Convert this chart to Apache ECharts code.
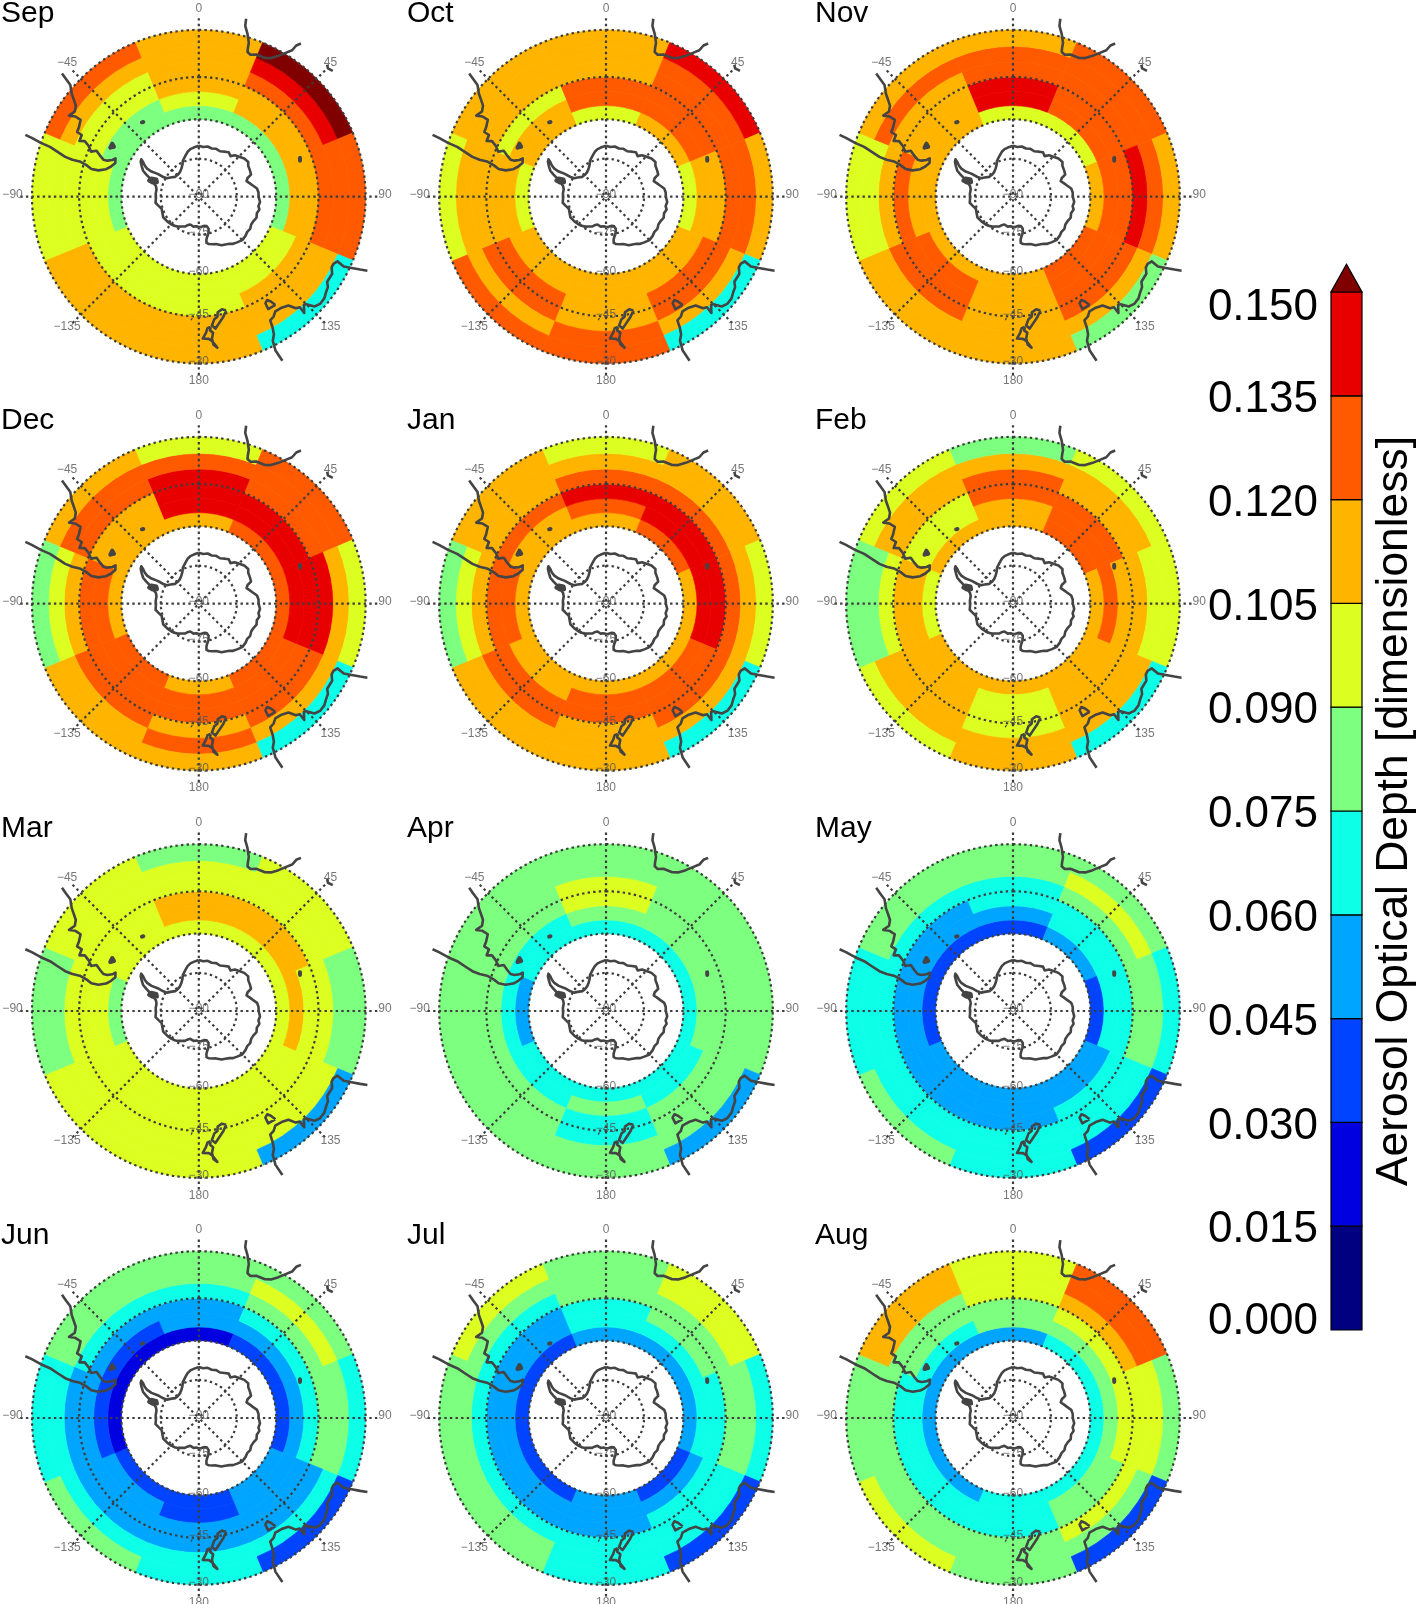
<!DOCTYPE html>
<html>
<head>
<meta charset="utf-8">
<style>html,body{margin:0;padding:0;background:#fff}#c{width:1417px;height:1604px}</style>
<script src="https://cdn.jsdelivr.net/npm/echarts@6/dist/echarts.min.js"></script>
</head>
<body>
<div id="c"></div>
<script>
// Aerosol optical depth (one representative value per colour class)
const N=.008,B=.022,U=.037,L=.052,C=.067,G=.082,Y=.097,O=.112,R=.127,E=.142,D=.160;

const monthNames=['Sep','Oct','Nov','Dec','Jan','Feb','Mar','Apr','May','Jun','Jul','Aug'];
const sectorLons=[0,45,90,135,180,-135,-90,-45];   // centre of each 45 degree sector
const ringEdges=[-60,-55,-50,-45,-40,-35,-30];     // latitude bands

// each month: one row per sector (order of sectorLons), inner ring to outer ring
const sep=[[G,Y,O,O,O,O],[G,O,O,R,E,D],[G,O,O,R,R,R],[Y,Y,O,O,O,C],[Y,Y,Y,O,O,O],[Y,Y,Y,O,O,O],[G,Y,Y,Y,Y,Y],[G,G,Y,Y,O,R]];
const oct=[[Y,R,R,O,O,O],[O,R,R,R,R,E],[Y,O,O,R,R,O],[O,O,R,R,O,C],[O,O,O,O,R,R],[O,O,R,R,O,R],[Y,O,O,O,O,Y],[O,O,Y,O,O,O]];
const nov=[[Y,E,E,R,R,O],[Y,R,R,R,R,R],[O,R,R,E,R,O],[R,R,R,R,O,G],[O,O,O,O,O,O],[O,R,R,R,O,O],[O,O,R,O,Y,Y],[O,O,O,O,R,O]];
const dec=[[O,E,E,E,R,Y],[R,E,E,R,R,R],[R,E,E,E,O,Y],[R,R,R,R,O,C],[O,R,R,O,R,O],[R,R,R,R,O,O],[O,R,R,O,Y,G],[O,O,O,R,R,O]];
const jan=[[O,R,E,R,O,Y],[R,E,E,R,O,O],[O,E,E,R,O,Y],[O,R,R,R,O,C],[O,R,R,O,O,O],[O,O,R,R,O,O],[O,R,R,O,Y,G],[O,O,R,O,O,O]];
const feb=[[O,O,R,R,O,G],[R,R,R,O,O,Y],[O,R,O,O,Y,Y],[O,O,O,O,O,C],[O,Y,Y,Y,O,O],[O,O,O,O,O,Y],[Y,O,O,Y,G,G],[O,Y,Y,O,O,Y]];
const mar=[[Y,O,O,Y,Y,G],[Y,O,O,Y,Y,Y],[Y,O,Y,Y,G,G],[Y,Y,Y,Y,Y,L],[Y,Y,Y,Y,Y,Y],[Y,Y,Y,Y,Y,Y],[G,Y,Y,Y,G,G],[Y,Y,Y,Y,Y,Y]];
const apr=[[C,G,Y,Y,G,G],[C,G,G,G,G,G],[C,G,G,G,G,G],[C,C,G,G,G,L],[C,G,C,C,G,G],[C,C,G,G,G,G],[L,C,G,G,G,G],[C,C,G,G,G,G]];
const may=[[U,L,C,C,G,G],[L,C,C,G,Y,G],[U,C,C,G,G,C],[L,L,C,C,C,U],[L,L,L,C,C,C],[L,L,L,C,C,G],[U,L,L,C,C,C],[U,L,L,C,G,G]];
const jun=[[B,L,L,C,G,G],[U,L,C,G,Y,G],[U,L,C,G,G,C],[L,L,L,L,C,U],[U,U,L,L,C,C],[U,L,L,L,C,G],[B,U,L,L,C,C],[B,U,L,C,G,G]];
const jul=[[L,C,C,G,G,G],[L,C,G,G,Y,Y],[L,C,C,G,G,C],[U,L,C,C,C,U],[L,L,L,C,C,C],[U,L,L,C,G,G],[U,L,L,C,G,G],[U,L,L,C,G,Y]];
const aug=[[L,G,G,Y,Y,Y],[C,G,Y,O,R,R],[C,G,Y,Y,Y,G],[C,G,G,Y,G,U],[C,C,C,G,G,G],[L,C,C,G,G,Y],[L,C,C,G,G,G],[L,C,G,G,O,O]];
const monthData=[sep,oct,nov,dec,jan,feb,mar,apr,may,jun,jul,aug];

// colour bar classes
const binStep=.015;
const binUpper=[.015,.03,.045,.06,.075,.09,.105,.12,.135,.15];
const binColors=['#000080','#0000e0','#0044ff','#00a5ff','#0dffe8','#7dff80','#dcff21','#ffb500','#ff5a00','#e80000'];
const overColor='#800000';
const barMax=.15, barCapTop=.154;

// graticule tick labels
const lonTicks=[0,45,90,135,180,-135,-90,-45];
const latTicks=[-30,-45,-60,-75,-90];
const gratParallels=[-30,-45,-60,-75];

// coastlines, [lon, lat] in degrees
const antarctica=[[0,-70],[5,-70.4],[10,-70],[15,-70.4],[20,-70],[25,-70.3],[30,-69.6],[34,-69],[38,-69.8],[41,-68.5],[46,-67.6],[50,-66.8],[55,-66.4],[58,-67.2],[63,-67.5],[67,-67.8],[69,-69.5],[72,-70.3],[75,-69.4],[78,-68.5],[82,-67],[86,-66.6],[90,-66.6],[95,-66],[99,-66.4],[102,-65.8],[106,-66.4],[110,-66],[114,-66.6],[118,-66.8],[122,-66.3],[126,-66.6],[130,-66.2],[135,-66],[140,-66.7],[144,-67.2],[147,-68],[151,-68.6],[155,-69],[160,-70.2],[164,-70.6],[168,-71],[170.5,-71.6],[170,-72.8],[168,-74],[165,-75.2],[163,-76.8],[165,-78],[170,-78.3],[175,-78.1],[180,-78],[-175,-78.3],[-170,-78],[-163,-78.5],[-158,-77.8],[-155,-77],[-150,-76.4],[-145,-75.6],[-140,-75],[-135,-74.6],[-128,-74.2],[-120,-73.8],[-114,-74.3],[-108,-74.6],[-102,-73.6],[-98,-72.8],[-92,-73.1],[-86,-73],[-80,-73.1],[-76,-72.6],[-72,-71],[-69,-69.2],[-67,-67.6],[-65,-66],[-62,-64.8],[-59,-63.6],[-57,-63.3],[-58,-64.4],[-60,-65.6],[-61.5,-67],[-62,-69],[-61,-71.5],[-61,-74],[-60,-75.5],[-56,-76.5],[-50,-77.8],[-44,-78],[-38,-77.8],[-32,-77],[-27,-75.8],[-24,-74.5],[-18,-73],[-14,-71.8],[-10,-71],[-6,-70.6],[0,-70]];
const alexander=[[-72,-69.5],[-69,-70],[-68,-72],[-71,-72.6],[-73,-71],[-72,-69.5]];
const southAmerica=[[-48,-25],[-48.5,-27],[-49,-29],[-51,-31],[-52.5,-33],[-53.5,-34.2],[-55.5,-35],[-58,-34.2],[-57,-36],[-57,-38],[-60,-38.8],[-62,-39],[-62.2,-40.8],[-65,-41],[-64,-42.6],[-65.3,-44.5],[-67.3,-46],[-65.8,-47.6],[-67.5,-49.5],[-68.8,-51],[-68.5,-52.4],[-67,-54],[-65.3,-54.8],[-68,-55.4],[-71,-54.4],[-73.5,-53],[-75.3,-50.5],[-75.5,-48],[-74.3,-46],[-73.5,-43.5],[-73.7,-41],[-73.4,-38.5],[-72.5,-36],[-71.5,-33],[-71.2,-30],[-70.6,-27],[-70.4,-25]];
const falklands=[[-61,-51.4],[-58.5,-51.3],[-58,-51.9],[-59.5,-52.4],[-60.8,-52.2],[-61,-51.4]];
const southGeorgia=[[-37.4,-54.1],[-36.6,-54.3]];
const kerguelen=[[69,-48.9],[70.4,-49.2],[69.6,-49.7],[69,-48.9]];
const africa=[[14.9,-25],[15.2,-27],[16.6,-29],[18,-31.5],[18.3,-33.2],[18.6,-34.3],[20,-34.8],[22,-34.1],[25.5,-34],[27.5,-33.2],[29.5,-31.5],[31,-29.8],[32.5,-28],[32.8,-26.2],[33.7,-25]];
const madagascar=[[44.2,-25],[45.2,-25.6],[46.8,-25.1]];
const australia=[[113.7,-25],[114.3,-27],[115,-29.5],[115.7,-31.8],[115,-34.2],[116.5,-35],[118,-35],[120,-33.9],[123.5,-33.9],[125,-32.8],[127,-32.3],[129,-31.6],[131.5,-31.5],[133.5,-32.2],[135,-34.5],[135.8,-34.9],[137.8,-33],[137.6,-35.2],[139,-35.8],[140.5,-38],[143.3,-38.8],[146.3,-39],[148,-37.9],[150,-37.4],[150.6,-35],[151.4,-33],[152.8,-31.5],[153.5,-28.5],[153,-25]];
const tasmania=[[144.7,-40.7],[148.3,-40.9],[148,-43],[146.5,-43.6],[145.5,-42.5],[144.7,-40.7]];
const nzSouth=[[166.5,-45.9],[168.4,-46.6],[170.7,-45.9],[171.2,-44.4],[172.8,-43.7],[174.2,-41.7],[172.8,-40.6],[171.5,-41.7],[168.5,-44],[166.5,-45.9]];
const nzNorth=[[174.8,-41.3],[176.2,-41],[177,-39.5],[178.4,-37.7],[176,-37.5],[174.8,-36.8],[173,-34.5],[174.3,-35.5],[174.7,-37.5],[174,-39.3],[175.2,-40.2],[174.8,-41.3]];
const chatham=[[-176.9,-43.9],[-176.4,-44.1]];
const coasts=[antarctica,southAmerica,africa,madagascar,australia,tasmania,nzSouth,nzNorth,chatham];
const smallIslands=[alexander,falklands,southGeorgia,kerguelen];

// layout
const colX=[198.8,606,1013];
const rowY=[196.7,603.7,1011,1418];
const titleX=[1,407,815];
const titleY=[-1,406,814,1221];
const stereoK=289;
const axisLat=-24;
const FONT='"Liberation Sans",Arial,sans-serif';

const toRad=Math.PI/180;
const stereo=lat=>Math.tan((90+lat)/2*toRad);
const normLon=l=>((l%360)+360)%360;
const colorOf=v=>{
  for(let i=0;i<binUpper.length;i++) if(v<binUpper[i]) return binColors[i];
  return overColor;
};
const minusText=v=>v<0?'\u2212'+(-v):''+v;

const polar=[],angleAxis=[],radiusAxis=[],title=[],series=[];
const axisOff={axisLine:{show:false},axisTick:{show:false},axisLabel:{show:false},splitLine:{show:false},splitArea:{show:false}};

monthNames.forEach((name,m)=>{
  const cx=colX[m%3],cy=rowY[Math.floor(m/3)];
  polar.push({center:[cx,cy],radius:[0,stereoK*stereo(axisLat)]});
  angleAxis.push(Object.assign({polarIndex:m,type:'value',min:0,max:360,interval:45,startAngle:90,clockwise:true},axisOff));
  radiusAxis.push(Object.assign({polarIndex:m,type:'value',min:0,max:stereo(axisLat)},axisOff));
  title.push({text:name,left:titleX[m%3],top:titleY[Math.floor(m/3)],padding:0,
    textStyle:{fontFamily:FONT,fontWeight:'normal',fontSize:30,color:'#000'}});

  // cells
  const cells=[];
  sectorLons.forEach((lon,s)=>{
    monthData[m][s].forEach((v,k)=>{
      const a0=normLon(lon-22.5);
      cells.push([stereo(ringEdges[k]),stereo(ringEdges[k+1]),a0,a0+45,v]);
    });
  });
  series.push({
    type:'custom',coordinateSystem:'polar',polarIndex:m,data:cells,z:1,silent:true,clip:false,
    encode:{radius:[0,1],angle:[2]},
    renderItem:(params,api)=>{
      const r0=api.value(0),r1=api.value(1),a0=api.value(2),a1=api.value(3);
      const pts=[];
      for(let a=0;a<=8;a++) pts.push(api.coord([r0,normLon(a0+(a1-a0)*a/8)]));
      for(let a=8;a>=0;a--) pts.push(api.coord([r1,normLon(a0+(a1-a0)*a/8)]));
      const col=colorOf(api.value(4));
      return {type:'polygon',shape:{points:pts},style:{fill:col,stroke:col,lineWidth:0.7}};
    }
  });

  // graticule
  const dotted={color:'#3c3c3c',width:2.2,type:[2.4,3.2],cap:'butt'};
  gratParallels.forEach(lat=>{
    const d=[];
    for(let a=0;a<=360;a+=3) d.push([stereo(lat),a%360===0&&a>0?359.99:a]);
    series.push({type:'line',coordinateSystem:'polar',polarIndex:m,data:d,symbol:'none',silent:true,clip:false,z:3,lineStyle:dotted});
  });
  lonTicks.forEach(lon=>{
    series.push({type:'line',coordinateSystem:'polar',polarIndex:m,data:[[stereo(-26.6),normLon(lon)],[0,normLon(lon)]],symbol:'none',silent:true,clip:false,z:3,lineStyle:dotted});
  });

  // coastlines
  coasts.forEach(c=>{
    series.push({type:'line',coordinateSystem:'polar',polarIndex:m,data:c.map(p=>[stereo(p[1]),normLon(p[0])]),
      symbol:'none',silent:true,clip:false,z:4,lineStyle:{color:'#444',width:2.6,join:'round'}});
  });
  smallIslands.forEach(c=>{
    series.push({type:'line',coordinateSystem:'polar',polarIndex:m,data:c.map(p=>[stereo(p[1]),normLon(p[0])]),
      symbol:'none',silent:true,clip:false,z:4,lineStyle:{color:'#444',width:4,join:'round',cap:'round'}});
  });

  // tick labels
  const labelStyle={show:true,position:'inside',fontFamily:FONT,fontSize:12,color:'#555'};
  series.push({type:'scatter',coordinateSystem:'polar',polarIndex:m,symbolSize:1,silent:true,clip:false,z:5,
    itemStyle:{color:'transparent'},
    label:Object.assign({},labelStyle,{offset:[0,-2],formatter:p=>p.name}),
    data:latTicks.map(t=>({name:minusText(t),value:[stereo(t),180]}))});
  series.push({type:'scatter',coordinateSystem:'polar',polarIndex:m,symbolSize:1,silent:true,clip:false,z:5,
    itemStyle:{color:'transparent'},
    label:Object.assign({},labelStyle,{offset:[0,-2],formatter:p=>p.name}),
    data:lonTicks.map(t=>({name:minusText(t),value:[stereo(-24.4),normLon(t)]}))});
});

// colour bar: one rectangle per class on the value axis, plus the over-range cap
series.push({
  type:'custom',xAxisIndex:0,yAxisIndex:0,silent:true,clip:false,z:2,
  data:binUpper.map(u=>[u-binStep,u]),
  encode:{y:[0,1]},
  renderItem:(params,api)=>{
    const a=api.coord([0,api.value(0)]),b=api.coord([1,api.value(1)]);
    return {type:'rect',shape:{x:a[0],y:b[1],width:b[0]-a[0],height:a[1]-b[1]},
      style:{fill:binColors[params.dataIndex],stroke:'#000',lineWidth:1.2}};
  }
});
series.push({
  type:'custom',xAxisIndex:0,yAxisIndex:0,silent:true,clip:false,z:2,
  data:[[barMax,barCapTop]],
  encode:{y:[0,1]},
  renderItem:(params,api)=>({type:'polygon',
    shape:{points:[api.coord([0,api.value(0)]),api.coord([1,api.value(0)]),api.coord([.5,api.value(1)])]},
    style:{fill:overColor,stroke:'#000',lineWidth:1.2}})
});

const option={
  animation:false,
  backgroundColor:'#fff',
  title,polar,angleAxis,radiusAxis,
  grid:[
    {left:1331,top:292,width:31,height:1038,outerBoundsMode:'none'},
    {left:1331,top:296,width:31,height:1038,outerBoundsMode:'none'}
  ],
  xAxis:[
    {gridIndex:0,type:'value',min:0,max:1,show:false},
    {gridIndex:1,type:'value',min:0,max:1,show:false}
  ],
  yAxis:[
    {gridIndex:0,type:'value',min:0,max:barMax,interval:binStep,position:'right',
     axisLine:{show:false},axisTick:{show:false},splitLine:{show:false},axisLabel:{show:false},
     name:'Aerosol Optical Depth [dimensionless]',nameLocation:'middle',nameRotate:90,nameGap:11,
     nameTextStyle:{fontFamily:FONT,fontSize:44.4,color:'#000'}},
    {gridIndex:1,type:'value',min:0,max:barMax,interval:binStep,position:'left',
     axisLine:{show:false},axisTick:{show:false},splitLine:{show:false},
     axisLabel:{fontFamily:FONT,fontSize:44,lineHeight:24,color:'#000',margin:13,
       formatter:v=>v.toFixed(3),verticalAlignMinLabel:'bottom',verticalAlignMaxLabel:'top'}}
  ],
  series
};
const chart=echarts.init(document.getElementById('c'),null,{renderer:'canvas',width:1417,height:1604});
chart.setOption(option);
</script>
</body>
</html>
